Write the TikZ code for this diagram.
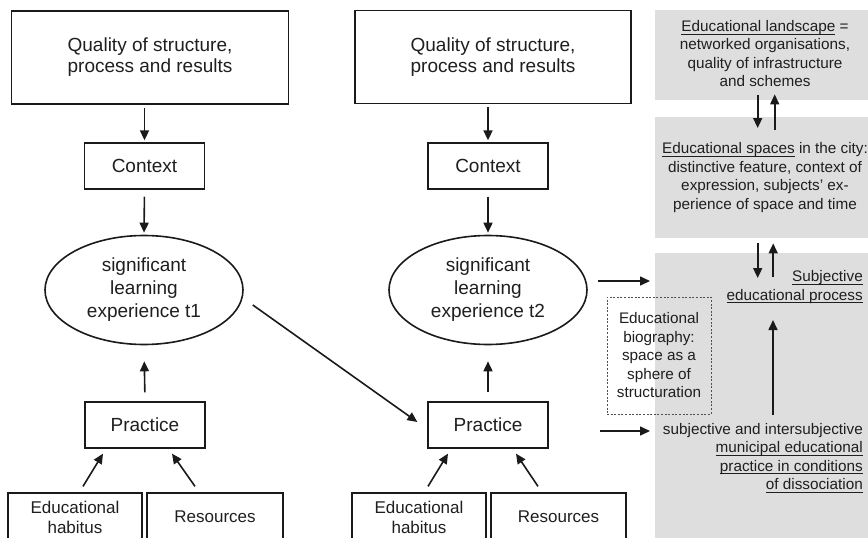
\documentclass[tikz,border=0pt]{standalone}
\usepackage{fontspec}
\setmainfont{Liberation Sans}
\usetikzlibrary{arrows.meta,shapes.geometric}
\definecolor{ink}{HTML}{1A1A1A}
\definecolor{txt}{HTML}{1F1F1F}
\definecolor{panelgray}{HTML}{DEDEDE}
\definecolor{dashgray}{HTML}{505050}
% underline with a slightly heavier rule, as in the panels
\newcommand{\uline}[1]{\setbox0=\hbox{#1}\leavevmode\rlap{\raisebox{-3.2pt}{\rule{\wd0}{0.9pt}}}\box0\relax}
\begin{document}
\begin{tikzpicture}[x=1pt,y=-1pt,
  box/.style={draw=ink, line width=1.3pt, fill=white, text=txt, inner sep=0pt, align=center},
  bigfont/.style={font=\fontsize{19}{21}\selectfont},
  ellfont/.style={font=\fontsize{19}{23}\selectfont},
  smallfont/.style={font=\fontsize{17}{20}\selectfont},
  sidefont/.style={font=\fontsize{15.3}{18.5}\selectfont},
  oval/.style={ellipse, draw=ink, line width=1.6pt, fill=white, text=txt, inner sep=0pt,
    minimum width=198pt, minimum height=109pt, align=center, ellfont},
  panel/.style={fill=panelgray, draw=none, inner sep=0pt, anchor=north west},
  sidetext/.style={text=txt, inner sep=0pt, sidefont},
  arr/.style={draw=ink, line width=1.6pt, -{Triangle[length=10pt,width=9pt]}}
]
\useasboundingbox (0,0) rectangle (868,538);

% right-hand grey panels
\node[panel, minimum width=223pt, minimum height=90pt] (p1) at (655,10) {};
\node[panel, minimum width=223pt, minimum height=121pt] (p2) at (655,117) {};
\node[panel, minimum width=223pt, minimum height=295pt] (p3) at (655,253) {};

\node[sidetext, align=center] (landscape) at (765,53.5)
  {\uline{Educational landscape} =\\networked organisations,\\quality of infrastructure\\and schemes};
\node[sidetext, align=center] (spaces) at (765,177.5)
  {\uline{Educational spaces} in the city:\\distinctive feature, context of\\expression, subjects' ex-\\perience of space and time};
\node[sidetext, align=right, anchor=east] (subproc) at (863,287)
  {\uline{Subjective}\\\uline{educational process}};
\node[sidetext, align=right, anchor=east] (municipal) at (863,458)
  {subjective and intersubjective\\\uline{municipal educational}\\\uline{practice in conditions}\\\uline{of dissociation}};

% dashed box: educational biography
\node[draw=dashgray, line width=1pt, dash pattern=on 2pt off 1.6pt, text=txt, inner sep=0pt,
  minimum width=104pt, minimum height=117pt, align=center, sidefont] (bio) at (659,355.5)
  {Educational\\biography:\\space as a\\sphere of\\structuration};

% first column (t1)
\node[box, bigfont, minimum width=277pt, minimum height=93pt] (q1) at (150,57.5) {Quality of structure,\\process and results};
\node[box, bigfont, minimum width=120pt, minimum height=46pt] (ctx1) at (144.5,166) {Context};
\node[oval] (ell1) at (144,290) {significant\\learning\\experience t1};
\node[box, bigfont, minimum width=120pt, minimum height=46pt] (prac1) at (145,425) {Practice};
\node[box, smallfont, minimum width=134pt, minimum height=48pt] (hab1) at (75,517) {Educational\\habitus};
\node[box, smallfont, minimum width=136pt, minimum height=48pt] (res1) at (215,517) {Resources};

% second column (t2)
\node[box, bigfont, minimum width=276pt, minimum height=93pt] (q2) at (493,57) {Quality of structure,\\process and results};
\node[box, bigfont, minimum width=120pt, minimum height=46pt] (ctx2) at (488,166) {Context};
\node[oval] (ell2) at (488,290) {significant\\learning\\experience t2};
\node[box, bigfont, minimum width=120pt, minimum height=46pt] (prac2) at (488,425) {Practice};
\node[box, smallfont, minimum width=134pt, minimum height=48pt] (hab2) at (419,517) {Educational\\habitus};
\node[box, smallfont, minimum width=135pt, minimum height=48pt] (res2) at (558.5,517) {Resources};

% vertical flow, column 1
\draw[arr, shorten <=3pt, shorten >=2pt] (ctx1.north |- q1.south) -- (ctx1.north);
\draw[arr, shorten <=7pt, shorten >=2pt] (ctx1.south) -- (ell1.north);
\draw[arr, shorten <=9pt, shorten >=16pt] (prac1.north) -- (ell1.south);
\draw[arr] ([shift={(8,-6)}]hab1.north) -- ([shift={(-42,5)}]prac1.south);
\draw[arr] ([shift={(-20,-6)}]res1.north) -- ([shift={(27,5)}]prac1.south);

% vertical flow, column 2
\draw[arr, shorten <=3pt, shorten >=2pt] (ctx2.north |- q2.south) -- (ctx2.north);
\draw[arr, shorten <=7pt, shorten >=2pt] (ctx2.south) -- (ell2.north);
\draw[arr, shorten <=9pt, shorten >=16pt] (prac2.north) -- (ell2.south);
\draw[arr] ([shift={(9,-6)}]hab2.north) -- ([shift={(-40,5)}]prac2.south);
\draw[arr] ([shift={(-20.5,-6)}]res2.north) -- ([shift={(28,5)}]prac2.south);

% t1 experience feeds t2 practice
\draw[arr] ([shift={(9,15)}]ell1.east) -- ([shift={(-10,-3)}]prac2.west);

% links into the grey panels
\draw[arr, shorten >=5pt] ([shift={(10,-9)}]ell2.east) -- ([shift={(0,-9)}]ell2.east -| p3.west);
\coordinate (pracout) at (600,431);
\draw[arr, shorten >=5pt] (pracout) -- (pracout -| p3.west);

% arrows between the panels
\draw[arr] ([shift={(-9,-5)}]p1.south) -- ([shift={(-9,11)}]p2.north);
\draw[arr] ([shift={(8,13)}]p2.north) -- ([shift={(8,-6)}]p1.south);
\draw[arr] ([shift={(-9,5)}]p2.south) -- ([shift={(-9,25)}]p3.north);
\draw[arr] ([shift={(6.5,24)}]p3.north) -- ([shift={(6.5,5)}]p2.south);

% practice in the city shapes the subjective process
\coordinate (procfoot) at (773,415);
\coordinate (prochead) at (773,320);
\draw[arr] (procfoot) -- (prochead);
\end{tikzpicture}
\end{document}
